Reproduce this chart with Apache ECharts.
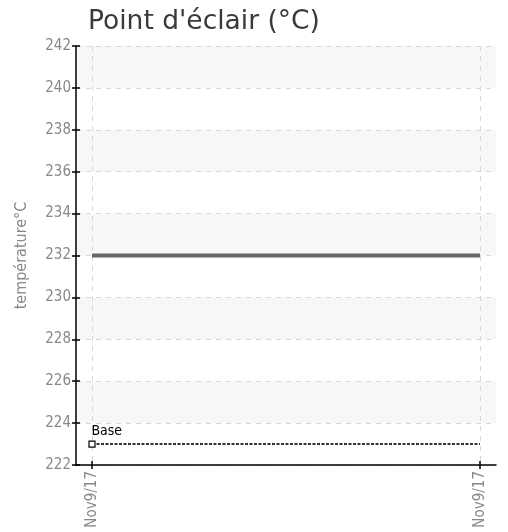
<!DOCTYPE html>
<html><head><meta charset="utf-8">
<script src="https://cdn.jsdelivr.net/npm/echarts@6/dist/echarts.min.js"></script>
<style>html,body{margin:0;padding:0;background:#fff}#c{width:508px;height:532px}</style>
</head><body><div id="c"></div>
<script>
const categories = ['Nov9/17', 'Nov9/17'];
const flashPoint = [232, 232];
const baseValues = [223, 223];
const yMin = 222, yMax = 242, yStep = 2;
const titleText = "Point d'éclair (°C)";
const yName = 'température°C';
const baseName = 'Base';

const cond = 'DejaVu Sans Condensed, DejaVu Sans, sans-serif';
const chart = echarts.init(document.getElementById('c'));
chart.setOption({
  animation: false,
  title: { text: titleText, left: 83, top: 4, textStyle: { fontFamily: 'DejaVu Sans', fontWeight: 'normal', fontSize: 26.5, color: '#3a3a3a' } },
  grid: [
    { left: 76, right: 12, top: 46, bottom: 67 },
    { left: 92, right: 28, top: 46, bottom: 67 }
  ],
  xAxis: [
    { gridIndex: 0, type: 'value', min: 0, max: 1, axisLine: { show: true, onZero: false, lineStyle: { color: '#000', width: 1.5 } }, axisTick: { show: false }, axisLabel: { show: false }, splitLine: { show: false } },
    { gridIndex: 1, type: 'category', position: 'bottom', data: categories, boundaryGap: false,
      axisLine: { show: false }, axisTick: { show: true, length: 4, lineStyle: { color: '#000', width: 1.5 } },
      axisLabel: { interval: 0, rotate: 90, color: '#888', fontFamily: cond, fontSize: 15, margin: 6 },
      splitLine: { show: true, lineStyle: { color: '#d8d8d8', type: [5, 5] } } },
    { gridIndex: 1, type: 'category', position: 'bottom', data: categories, boundaryGap: false, axisLine: { show: false }, axisLabel: { show: false },
      axisTick: { show: true, inside: true, length: 4, lineStyle: { color: '#000', width: 1.5 } }, splitLine: { show: false } }
  ],
  yAxis: [
    { gridIndex: 0, type: 'value', min: yMin, max: yMax, interval: yStep,
      name: yName, nameLocation: 'middle', nameGap: 46, nameRotate: 90,
      nameTextStyle: { color: '#888', fontFamily: cond, fontSize: 16 },
      axisLine: { show: true, lineStyle: { color: '#000', width: 1.5 } },
      axisTick: { show: true, length: 4, lineStyle: { color: '#000', width: 1.5 } },
      axisLabel: { color: '#888', fontFamily: cond, fontSize: 15, margin: 5 },
      splitLine: { show: true, lineStyle: { color: '#d8d8d8', type: [5, 5] } },
      splitArea: { show: true, areaStyle: { color: ['rgba(255,255,255,0)', '#f7f7f7'] } } },
    { gridIndex: 0, type: 'value', min: yMin, max: yMax, interval: yStep, position: 'left',
      axisLine: { show: false }, axisLabel: { show: false }, splitLine: { show: false },
      axisTick: { show: true, inside: true, length: 4, lineStyle: { color: '#000', width: 1.5 } } },
    { gridIndex: 1, type: 'value', min: yMin, max: yMax, interval: yStep, show: false }
  ],
  series: [
    { type: 'line', xAxisIndex: 1, yAxisIndex: 2, data: flashPoint, showSymbol: false, symbol: 'none',
      lineStyle: { color: '#666', width: 4 } },
    { type: 'line', name: baseName, xAxisIndex: 1, yAxisIndex: 2, data: baseValues.map((v, i) => i === 0 ? {
        value: v, symbol: 'rect', symbolSize: 6, itemStyle: { color: '#fff', borderColor: '#000', borderWidth: 1.2 },
        label: { show: true, formatter: baseName, position: [3, -16], color: '#000', fontFamily: cond, fontSize: 14 } } : { value: v, symbol: 'none' }),
      showAllSymbol: true,
      lineStyle: { color: '#333', width: 2, type: [3, 1.5] } }
  ]
});
</script></body></html>
